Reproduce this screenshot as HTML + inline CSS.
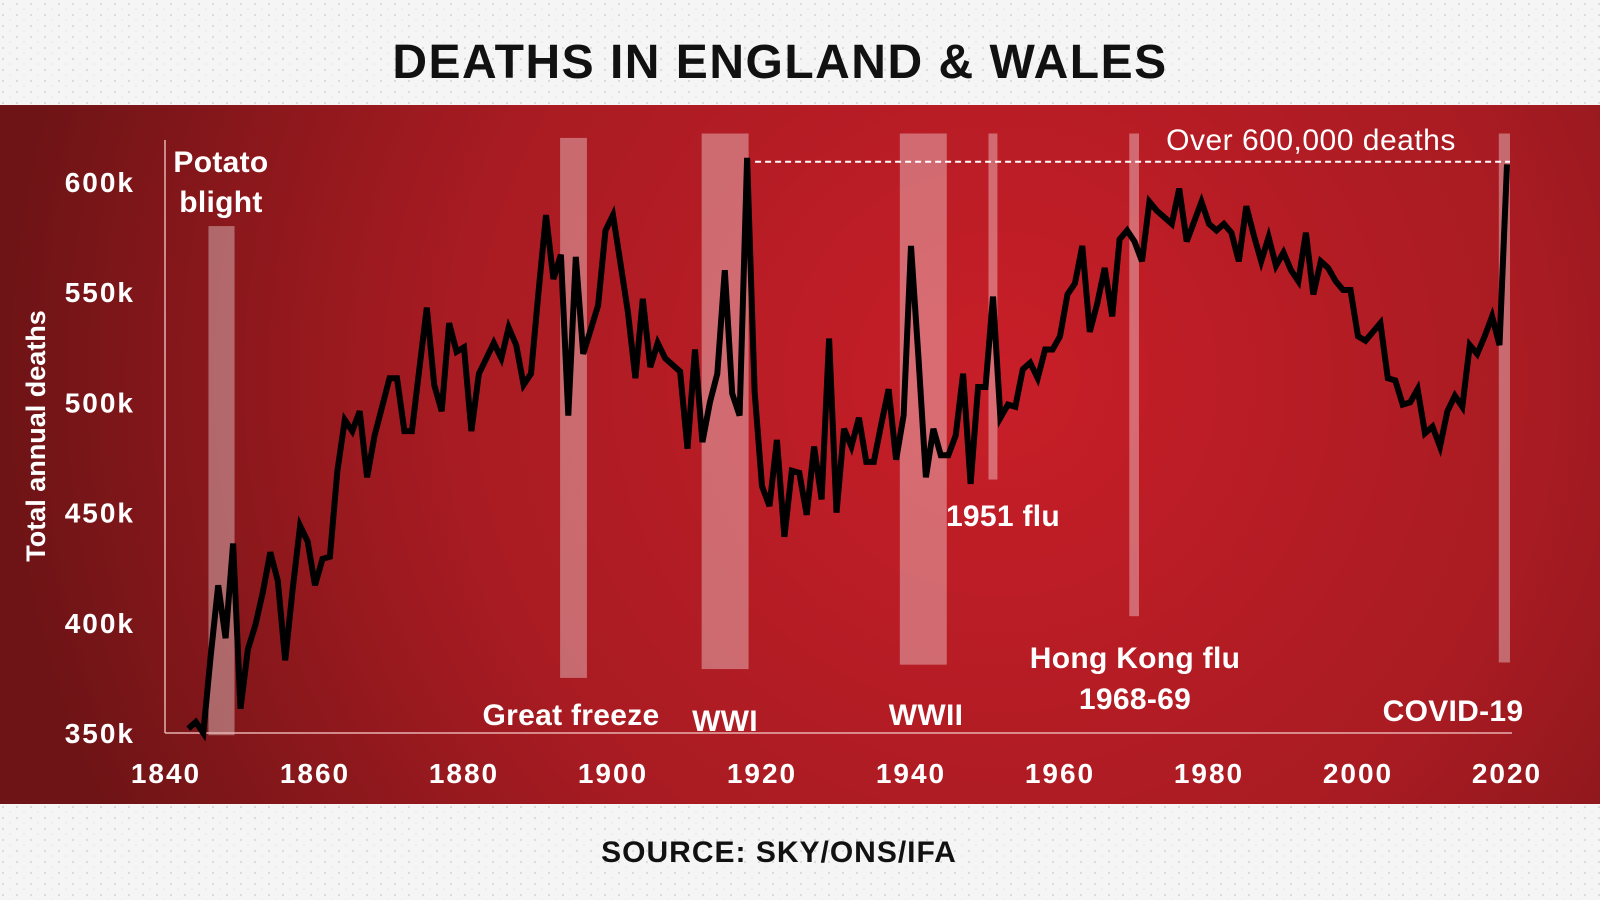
<!DOCTYPE html>
<html><head><meta charset="utf-8"><style>
html,body{margin:0;padding:0;width:1600px;height:900px;overflow:hidden;background:#f3f3f3;font-family:"Liberation Sans",sans-serif}
svg{display:block}
</style></head><body>
<svg id="chart" width="1600" height="900" viewBox="0 0 1600 900">
<defs>
<radialGradient id="bg" cx="1000" cy="380" r="1000" gradientUnits="userSpaceOnUse">
<stop offset="0" stop-color="#c81e28"/><stop offset="0.55" stop-color="#a81b22"/><stop offset="1" stop-color="#6e1416"/>
</radialGradient>
<pattern id="speck" width="14" height="11" patternUnits="userSpaceOnUse"><circle cx="3" cy="4" r="1.1" fill="#c8c8c8"/><circle cx="10" cy="9" r="0.8" fill="#d8d8d8"/></pattern>
</defs>
<rect x="0" y="0" width="1600" height="900" fill="#f5f5f5"/>
<rect x="0" y="0" width="1600" height="105" fill="url(#speck)" opacity="0.6"/>
<rect x="0" y="804" width="1600" height="96" fill="url(#speck)" opacity="0.6"/>
<rect x="0" y="105" width="1600" height="699" fill="url(#bg)"/>
<text x="780" y="78" text-anchor="middle" font-size="48" font-weight="bold" letter-spacing="1.5" fill="#111">DEATHS IN ENGLAND &amp; WALES</text>
<text x="779" y="862" text-anchor="middle" font-size="30" font-weight="bold" letter-spacing="1" fill="#111">SOURCE: SKY/ONS/IFA</text>
<g id="bands"></g>
<g id="axes"></g>
<g id="series"></g>
<g id="labels"></g>
</svg>
<script>
const years=[];for(let y=1843;y<=2020;y++)years.push(y);
const deaths=[352,355,350,385,417,393,436,361,388,399,414,432,419,383,415,444,437,417,429,430,469,492,487,496,466,485,498,511,511,487,487,515,543,508,496,536,523,525,487,513,520,527,520,534,526,508,513,550,585,556,567,494,566,522,533,544,578,585,563,541,511,547,516,527,520,517,514,479,524,482,500,513,560,504,494,611,
505,462,453,483,439,469,468,449,480,456,529,450,488,480,493,473,473,490,506,474,494,571,520,466,488,476,476,485,513,463,507,507,548,493,499,498,515,518,511,524,524,530,549,554,571,532,545,561,539,574,578,573,564,591,587,584,581,597,573,582,591,581,578,581,577,564,589,576,564,575,562,568,560,555,577,549,564,561,555,551,551,530,528,532,536,511,510,499,500,506,486,489,480,496,503,498,526,522,530,539,526,608];
const xTicks=[1840,1860,1880,1900,1920,1940,1960,1980,2000,2020];
const yTicks=[350,400,450,500,550,600];
const yTickLabels=["350k","400k","450k","500k","550k","600k"];
const eventNames=["potato-blight","great-freeze","wwi","wwii","flu-1951","hong-kong-flu","covid-19"];
const eventStart=[1845.7,1892.9,1911.9,1938.5,1950.4,1969.3,2018.9];
const eventEnd=[1849.2,1896.5,1918.2,1944.8,1951.6,1970.6,2020.4];
const eventTop=[580,620,622,622,622,622,622];
const eventBottom=[349,375,379,381,465,403,382];

const X=yr=>166+(yr-1840)*7.45;
const Y=v=>733-(v-350)*(551/250);
const NS="http://www.w3.org/2000/svg";
function mk(tag,attrs,parent,txt){const e=document.createElementNS(NS,tag);for(const k in attrs)e.setAttribute(k,attrs[k]);if(txt!==undefined)e.textContent=txt;parent.appendChild(e);return e;}
const bands=document.getElementById('bands'),axes=document.getElementById('axes'),series=document.getElementById('series'),labels=document.getElementById('labels');

eventNames.forEach((n,i)=>{
 const r=mk('rect',{x:X(eventStart[i]),y:Y(eventTop[i]),width:X(eventEnd[i])-X(eventStart[i]),height:Y(eventBottom[i])-Y(eventTop[i]),fill:'#ffffff','fill-opacity':0.35},bands);
 
 
});

let l=mk('line',{x1:165,y1:140,x2:165,y2:733,stroke:'#e8b0b0','stroke-width':1.5},axes);


l=mk('line',{x1:165,y1:733,x2:1512,y2:733,stroke:'#e8b0b0','stroke-width':1.5},axes);


yTicks.forEach((v,i)=>{
 const t=mk('text',{x:135,y:Y(v)+10,'text-anchor':'end','font-size':28,'font-weight':'bold','letter-spacing':2,fill:'#fff'},axes,yTickLabels[i]);
 
 
});
xTicks.forEach(v=>{
 const t=mk('text',{x:X(v),y:783,'text-anchor':'middle','font-size':28,'font-weight':'bold','letter-spacing':2,fill:'#fff'},axes,String(v));
 
 
});
const yt=mk('text',{x:0,y:0,transform:'translate(45,436) rotate(-90)','text-anchor':'middle','font-size':27,'font-weight':'bold',fill:'#fff'},axes,'Total annual deaths');



const d=years.map((yr,i)=>(i?'L':'M')+X(yr).toFixed(1)+','+Y(deaths[i]).toFixed(1)).join(' ');
const p=mk('path',{d:d,fill:'none',stroke:'#000','stroke-width':6,'stroke-linejoin':'miter','stroke-miterlimit':4},series);



const maxV=Math.max(...deaths);
const dl=mk('line',{x1:X(years[deaths.indexOf(maxV)])+8,y1:Y(maxV)+4,x2:1510,y2:Y(maxV)+4,stroke:'#fff','stroke-width':2,'stroke-dasharray':'6,4'},labels);



const annText=["Potato","blight","Great freeze","WWI","WWII","1951 flu","Hong Kong flu","1968-69","COVID-19","Over 600,000 deaths"];
const annX=[221,221,571,725,926,1003,1135,1135,1453,1311];
const annY=[172,212,725,731,725,526,668,709,721,150];
annText.forEach((s,i)=>{
 const t=mk('text',{x:annX[i],y:annY[i],'text-anchor':'middle','font-size':30,'font-weight':i==9?'normal':'bold','letter-spacing':i==9?0.5:0.3,fill:'#fff'},labels,s);
 
 
});
</script>
</body></html>
